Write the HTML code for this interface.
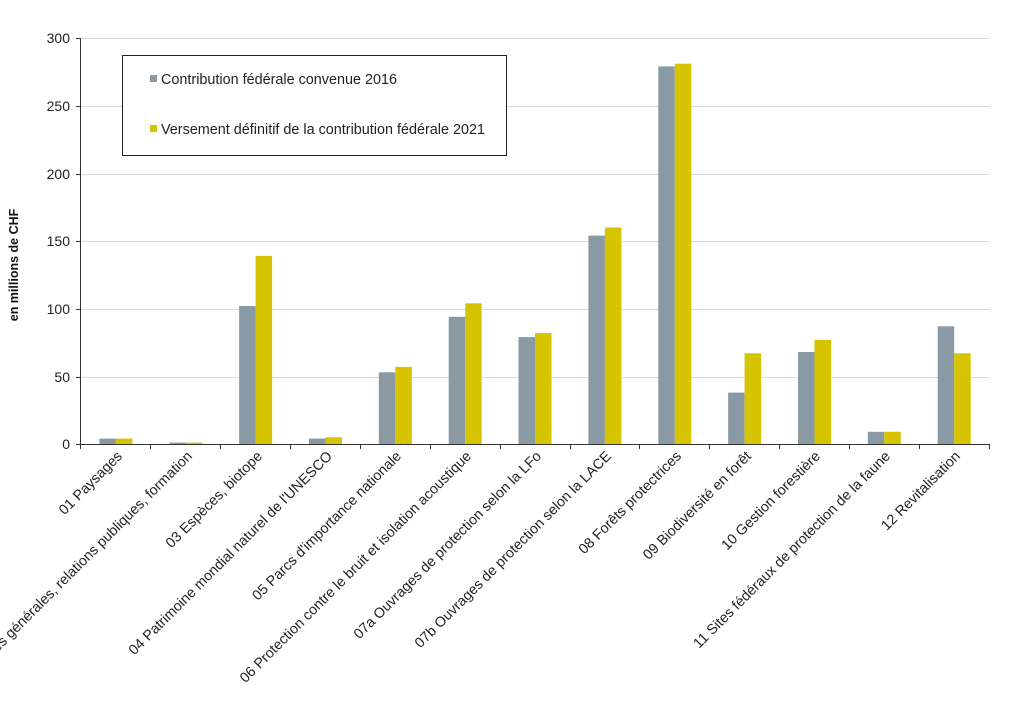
<!DOCTYPE html>
<html><head><meta charset="utf-8"><style>
html,body{margin:0;padding:0;background:#fff;}
svg{display:block;font-family:"Liberation Sans",Arial,sans-serif;}
</style></head><body>
<svg width="1024" height="717" viewBox="0 0 1024 717">
<g stroke="#d9d9d9" stroke-width="1">
<line x1="81" y1="38.5" x2="990" y2="38.5"/><line x1="81" y1="106.5" x2="990" y2="106.5"/>
<line x1="81" y1="174.5" x2="990" y2="174.5"/><line x1="81" y1="241.5" x2="990" y2="241.5"/>
<line x1="81" y1="309.5" x2="990" y2="309.5"/><line x1="81" y1="377.5" x2="990" y2="377.5"/>
</g>
<g font-size="14" fill="#222" text-anchor="end">
<text x="70" y="43">300</text><text x="70" y="111">250</text><text x="70" y="179">200</text>
<text x="70" y="246">150</text><text x="70" y="314">100</text><text x="70" y="382">50</text><text x="70" y="449">0</text>
</g>
<text transform="translate(18,265) rotate(-90)" font-size="12.5" font-weight="bold" text-anchor="middle" fill="#111">en millions de CHF</text>
<g>
<rect x="99.4" y="438.6" width="16.5" height="5.4" fill="#8a9aa5"/><rect x="115.9" y="438.6" width="16.5" height="5.4" fill="#d6c400"/>
<rect x="169.3" y="442.6" width="16.5" height="1.4" fill="#8a9aa5"/><rect x="185.8" y="442.6" width="16.5" height="1.4" fill="#d6c400"/>
<rect x="239.1" y="306" width="16.5" height="138" fill="#8a9aa5"/><rect x="255.6" y="255.9" width="16.5" height="188.1" fill="#d6c400"/>
<rect x="309" y="438.6" width="16.5" height="5.4" fill="#8a9aa5"/><rect x="325.5" y="437.2" width="16.5" height="6.8" fill="#d6c400"/>
<rect x="378.8" y="372.3" width="16.5" height="71.7" fill="#8a9aa5"/><rect x="395.3" y="366.9" width="16.5" height="77.1" fill="#d6c400"/>
<rect x="448.7" y="316.8" width="16.5" height="127.2" fill="#8a9aa5"/><rect x="465.2" y="303.3" width="16.5" height="140.7" fill="#d6c400"/>
<rect x="518.5" y="337.1" width="16.5" height="106.9" fill="#8a9aa5"/><rect x="535" y="333" width="16.5" height="111" fill="#d6c400"/>
<rect x="588.4" y="235.6" width="16.5" height="208.4" fill="#8a9aa5"/><rect x="604.9" y="227.5" width="16.5" height="216.5" fill="#d6c400"/>
<rect x="658.3" y="66.4" width="16.5" height="377.6" fill="#8a9aa5"/><rect x="674.8" y="63.7" width="16.5" height="380.3" fill="#d6c400"/>
<rect x="728.1" y="392.6" width="16.5" height="51.4" fill="#8a9aa5"/><rect x="744.6" y="353.3" width="16.5" height="90.7" fill="#d6c400"/>
<rect x="798" y="352" width="16.5" height="92" fill="#8a9aa5"/><rect x="814.5" y="339.8" width="16.5" height="104.2" fill="#d6c400"/>
<rect x="867.8" y="431.8" width="16.5" height="12.2" fill="#8a9aa5"/><rect x="884.3" y="431.8" width="16.5" height="12.2" fill="#d6c400"/>
<rect x="937.7" y="326.3" width="16.5" height="117.7" fill="#8a9aa5"/><rect x="954.2" y="353.3" width="16.5" height="90.7" fill="#d6c400"/>
</g>
<g stroke="#333" stroke-width="1">
<line x1="80.5" y1="38" x2="80.5" y2="449"/>
<line x1="80" y1="444.5" x2="990" y2="444.5"/>
<line x1="76" y1="38.5" x2="81" y2="38.5"/><line x1="76" y1="106.5" x2="81" y2="106.5"/><line x1="76" y1="174.5" x2="81" y2="174.5"/>
<line x1="76" y1="241.5" x2="81" y2="241.5"/><line x1="76" y1="309.5" x2="81" y2="309.5"/><line x1="76" y1="377.5" x2="81" y2="377.5"/><line x1="76" y1="444.5" x2="81" y2="444.5"/>
<line x1="150.5" y1="444" x2="150.5" y2="449"/><line x1="220.5" y1="444" x2="220.5" y2="449"/><line x1="290.5" y1="444" x2="290.5" y2="449"/>
<line x1="360.5" y1="444" x2="360.5" y2="449"/><line x1="430.5" y1="444" x2="430.5" y2="449"/><line x1="500.5" y1="444" x2="500.5" y2="449"/>
<line x1="570.5" y1="444" x2="570.5" y2="449"/><line x1="639.5" y1="444" x2="639.5" y2="449"/><line x1="709.5" y1="444" x2="709.5" y2="449"/>
<line x1="779.5" y1="444" x2="779.5" y2="449"/><line x1="849.5" y1="444" x2="849.5" y2="449"/><line x1="919.5" y1="444" x2="919.5" y2="449"/><line x1="989.5" y1="444" x2="989.5" y2="449"/>
</g>
<g font-size="14.3" fill="#222" text-anchor="end">
<text transform="translate(123,457) rotate(-45)">01 Paysages</text>
<text transform="translate(193,457) rotate(-45)">02 Tâches générales, relations publiques, formation</text>
<text transform="translate(263,457) rotate(-45)">03 Espèces, biotope</text>
<text transform="translate(333,457) rotate(-45)">04 Patrimoine mondial naturel de l'UNESCO</text>
<text transform="translate(402,457) rotate(-45)">05 Parcs d'importance nationale</text>
<text transform="translate(472,457) rotate(-45)">06 Protection contre le bruit et isolation acoustique</text>
<text transform="translate(542,457) rotate(-45)">07a Ouvrages de protection selon la LFo</text>
<text transform="translate(612,457) rotate(-45)">07b Ouvrages de protection selon la LACE</text>
<text transform="translate(682,457) rotate(-45)">08 Forêts protectrices</text>
<text transform="translate(752,457) rotate(-45)">09 Biodiversité en forêt</text>
<text transform="translate(821,457) rotate(-45)">10 Gestion forestière</text>
<text transform="translate(891,457) rotate(-45)">11 Sites fédéraux de protection de la faune</text>
<text transform="translate(961,457) rotate(-45)">12 Revitalisation</text>
</g>
<rect x="122.5" y="55.5" width="384" height="100" fill="#fff" stroke="#222" stroke-width="1"/>
<rect x="150" y="75" width="7" height="7" fill="#8a9aa5"/>
<rect x="150" y="125" width="7" height="7" fill="#d6c400"/>
<g font-size="14.4" fill="#222">
<text x="161" y="84">Contribution fédérale convenue 2016</text>
<text x="161" y="134">Versement définitif de la contribution fédérale 2021</text>
</g>
</svg>
</body></html>
